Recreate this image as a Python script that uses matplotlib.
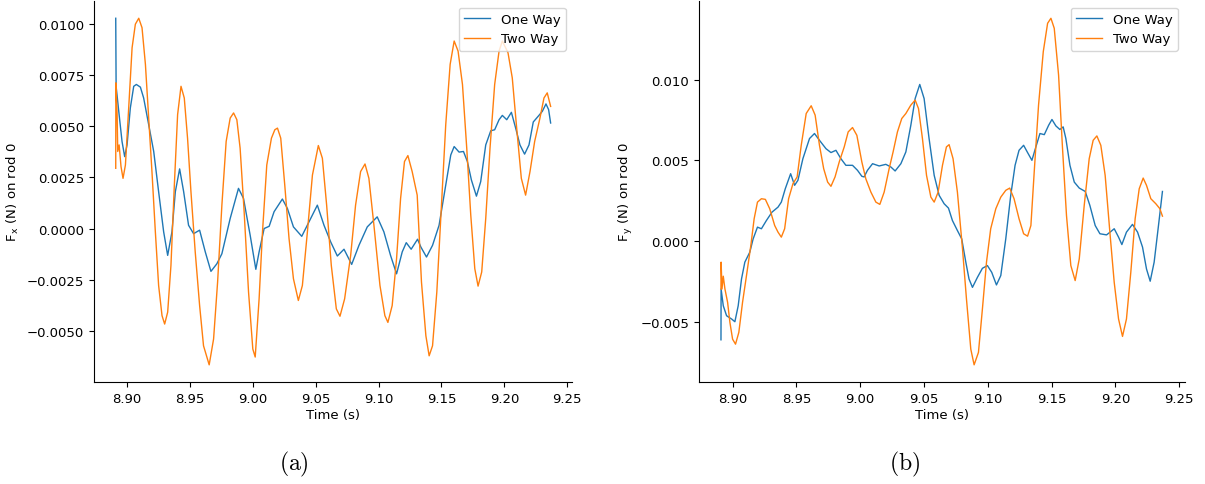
import numpy as np
import matplotlib
matplotlib.use("Agg")
import matplotlib.pyplot as plt

plt.rcParams["mathtext.fontset"] = "cm"

# values, force in 1e-3 N
# (a) Fx on rod 0
t_fx_one = [8.8910, 8.8913, 8.8934, 8.8960, 8.8981, 8.9000, 8.9026, 8.9053, 8.9074, 8.9106,
            8.9132, 8.9172, 8.9212, 8.9251, 8.9291, 8.9323, 8.9357, 8.9384, 8.9418, 8.9450,
            8.9489, 8.9529, 8.9577, 8.9622, 8.9667, 8.9714, 8.9754, 8.9820, 8.9886, 8.9926,
            8.9979, 9.0024, 9.0050, 9.0090, 9.0130, 9.0169, 9.0235, 9.0275, 9.0323, 9.0389,
            9.0447, 9.0513, 9.0566, 9.0619, 9.0672, 9.0725, 9.0786, 9.0844, 9.0910, 9.0989,
            9.1042, 9.1095, 9.1143, 9.1188, 9.1220, 9.1259, 9.1310, 9.1336, 9.1381, 9.1429,
            9.1481, 9.1534, 9.1574, 9.1601, 9.1640, 9.1675, 9.1706, 9.1738, 9.1778, 9.1812,
            9.1852, 9.1892, 9.1923, 9.1958, 9.1984, 9.2019, 9.2056, 9.2090, 9.2124, 9.2161,
            9.2196, 9.2230, 9.2275, 9.2302, 9.2331, 9.2352, 9.2368]
fx_one = [10.26, 6.94, 5.72, 4.25, 3.51, 4.08, 5.88, 6.94, 7.03, 6.90,
          6.37, 5.07, 3.76, 1.80, -0.16, -1.31, -0.16, 1.80, 2.91, 1.80,
          0.16, -0.25, -0.08, -1.14, -2.09, -1.72, -1.23, 0.49, 1.96, 1.47,
          -0.33, -1.99, -1.14, 0.00, 0.11, 0.82, 1.44, 0.98, 0.08, -0.38,
          0.33, 1.14, 0.16, -0.65, -1.34, -1.01, -1.75, -0.82, 0.08, 0.57,
          -0.16, -1.31, -2.21, -1.14, -0.69, -1.01, -0.52, -0.90, -1.39, -0.82,
          0.16, 2.12, 3.59, 4.00, 3.73, 3.76, 3.27, 2.37, 1.58, 2.29,
          4.08, 4.77, 4.82, 5.31, 5.52, 5.31, 5.67, 4.90, 4.08, 3.63,
          4.08, 5.20, 5.52, 5.72, 6.08, 5.80, 5.15]

t_fx_two = [8.8910, 8.8911, 8.8921, 8.8926, 8.8937, 8.8952, 8.8968, 8.8987, 8.9013, 8.9040,
            8.9066, 8.9093, 8.9119, 8.9146, 8.9172, 8.9198, 8.9225, 8.9251, 8.9278, 8.9299,
            8.9323, 8.9349, 8.9376, 8.9402, 8.9429, 8.9455, 8.9481, 8.9508, 8.9542, 8.9577,
            8.9608, 8.9653, 8.9688, 8.9720, 8.9754, 8.9788, 8.9820, 8.9847, 8.9873, 8.9899,
            8.9931, 8.9966, 9.0000, 9.0019, 9.0050, 9.0077, 9.0111, 9.0148, 9.0175, 9.0196,
            9.0222, 9.0254, 9.0288, 9.0323, 9.0362, 9.0394, 9.0434, 9.0474, 9.0521, 9.0553,
            9.0587, 9.0624, 9.0664, 9.0693, 9.0730, 9.0778, 9.0817, 9.0857, 9.0892, 9.0923,
            9.0963, 9.1011, 9.1050, 9.1074, 9.1108, 9.1143, 9.1175, 9.1206, 9.1233, 9.1267,
            9.1307, 9.1341, 9.1376, 9.1402, 9.1429, 9.1463, 9.1500, 9.1534, 9.1569, 9.1601,
            9.1632, 9.1667, 9.1701, 9.1733, 9.1765, 9.1791, 9.1820, 9.1852, 9.1886, 9.1923,
            9.1958, 9.1984, 9.2029, 9.2063, 9.2098, 9.2135, 9.2169, 9.2204, 9.2241, 9.2283,
            9.2315, 9.2341, 9.2368]
fx_two = [2.94, 7.11, 5.56, 3.76, 4.08, 3.02, 2.45, 3.10, 5.88, 8.82,
          9.97, 10.26, 9.80, 8.01, 5.39, 2.78, -0.16, -2.78, -4.25, -4.66,
          -4.08, -1.80, 2.12, 5.56, 6.94, 6.37, 4.41, 1.80, -1.14, -3.76,
          -5.72, -6.65, -5.39, -2.61, 1.14, 4.25, 5.39, 5.64, 5.31, 3.92,
          0.82, -3.10, -5.88, -6.27, -3.43, -0.16, 3.10, 4.41, 4.82, 4.90,
          4.41, 2.12, -0.49, -2.45, -3.51, -2.78, -0.16, 2.61, 4.05, 3.43,
          1.14, -1.80, -3.92, -4.28, -3.43, -1.31, 1.14, 2.78, 3.15, 2.45,
          0.16, -2.78, -4.25, -4.58, -3.76, -1.47, 1.47, 3.27, 3.56, 2.78,
          1.63, -2.61, -5.23, -6.21, -5.72, -3.10, 1.14, 5.07, 8.01, 9.15,
          8.66, 7.03, 3.92, 0.65, -1.96, -2.81, -2.12, 0.49, 3.92, 7.03,
          8.66, 9.15, 8.58, 7.35, 4.90, 2.45, 1.63, 2.78, 4.25, 5.39,
          6.37, 6.62, 5.96]

# (b) Fy on rod 0
t_fy_one = [8.8909, 8.8910, 8.8927, 8.8953, 8.8992, 8.9018, 8.9044, 8.9070, 8.9096, 8.9135,
            8.9161, 8.9195, 8.9226, 8.9265, 8.9309, 8.9356, 8.9382, 8.9413, 8.9455, 8.9486,
            8.9512, 8.9551, 8.9603, 8.9642, 8.9681, 8.9732, 8.9771, 8.9810, 8.9849, 8.9888,
            8.9940, 8.9979, 9.0013, 9.0031, 9.0057, 9.0097, 9.0149, 9.0201, 9.0240, 9.0274,
            9.0319, 9.0358, 9.0397, 9.0431, 9.0467, 9.0501, 9.0540, 9.0580, 9.0619, 9.0658,
            9.0692, 9.0723, 9.0762, 9.0796, 9.0828, 9.0853, 9.0880, 9.0919, 9.0958, 9.0997,
            9.1031, 9.1068, 9.1102, 9.1141, 9.1180, 9.1214, 9.1245, 9.1281, 9.1312, 9.1346,
            9.1377, 9.1409, 9.1443, 9.1477, 9.1503, 9.1534, 9.1565, 9.1591, 9.1612, 9.1644,
            9.1678, 9.1717, 9.1764, 9.1800, 9.1842, 9.1879, 9.1931, 9.1965, 9.1991, 9.2025,
            9.2051, 9.2087, 9.2134, 9.2174, 9.2213, 9.2244, 9.2273, 9.2304, 9.2338, 9.2369]
fy_one = [-6.11, -2.96, -4.00, -4.62, -4.82, -4.99, -4.00, -2.34, -1.30, -0.68,
          0.14, 0.87, 0.77, 1.28, 1.80, 2.11, 2.42, 3.25, 4.18, 3.46,
          3.77, 5.11, 6.36, 6.67, 6.25, 5.73, 5.49, 5.63, 5.11, 4.70,
          4.70, 4.39, 4.02, 3.98, 4.39, 4.80, 4.66, 4.76, 4.60, 4.35,
          4.80, 5.53, 7.18, 8.84, 9.71, 8.84, 6.36, 4.08, 2.84, 2.32,
          2.05, 1.28, 0.66, 0.14, -1.30, -2.34, -2.86, -2.24, -1.68, -1.51,
          -1.93, -2.71, -2.13, 0.14, 2.84, 4.70, 5.63, 5.94, 5.49, 5.01,
          5.84, 6.67, 6.60, 7.18, 7.54, 7.14, 6.92, 7.08, 6.36, 4.70,
          3.66, 3.29, 3.08, 2.22, 0.97, 0.46, 0.39, 0.60, 0.77, 0.25,
          -0.21, 0.56, 1.04, 0.56, -0.37, -1.72, -2.48, -1.30, 0.97, 3.08]

t_fy_two = [8.8909, 8.8910, 8.8917, 8.8927, 8.8940, 8.8961, 8.8979, 8.9000, 8.9023, 8.9049,
            8.9078, 8.9109, 8.9143, 8.9169, 8.9195, 8.9226, 8.9257, 8.9291, 8.9330, 8.9356,
            8.9382, 8.9408, 8.9439, 8.9473, 8.9506, 8.9538, 8.9577, 8.9616, 8.9647, 8.9681,
            8.9714, 8.9745, 8.9771, 8.9803, 8.9836, 8.9875, 8.9906, 8.9940, 8.9974, 9.0013,
            9.0044, 9.0084, 9.0123, 9.0154, 9.0188, 9.0227, 9.0258, 9.0292, 9.0326, 9.0358,
            9.0397, 9.0431, 9.0457, 9.0488, 9.0520, 9.0554, 9.0580, 9.0611, 9.0645, 9.0676,
            9.0697, 9.0728, 9.0762, 9.0802, 9.0833, 9.0867, 9.0893, 9.0927, 9.0958, 9.0990,
            9.1023, 9.1063, 9.1102, 9.1141, 9.1172, 9.1206, 9.1245, 9.1281, 9.1312, 9.1338,
            9.1364, 9.1398, 9.1435, 9.1469, 9.1495, 9.1521, 9.1555, 9.1586, 9.1617, 9.1651,
            9.1685, 9.1717, 9.1756, 9.1795, 9.1826, 9.1855, 9.1886, 9.1920, 9.1957, 9.1991,
            9.2025, 9.2056, 9.2087, 9.2121, 9.2155, 9.2187, 9.2218, 9.2244, 9.2278, 9.2317,
            9.2349, 9.2369]
fy_two = [-2.96, -1.30, -2.96, -2.17, -2.96, -3.79, -5.03, -6.07, -6.38, -5.65,
          -3.79, -2.13, -0.27, 1.39, 2.42, 2.63, 2.59, 2.01, 0.97, 0.56,
          0.25, 0.77, 2.63, 3.56, 3.98, 5.94, 7.91, 8.39, 7.81, 5.94,
          4.49, 3.66, 3.40, 3.98, 4.91, 5.84, 6.77, 7.04, 6.56, 4.91,
          3.87, 3.04, 2.42, 2.28, 3.04, 4.49, 5.53, 6.77, 7.60, 7.91,
          8.43, 8.74, 8.22, 6.36, 4.08, 2.73, 2.42, 3.04, 4.70, 5.84,
          5.98, 5.11, 3.04, -0.48, -3.58, -6.69, -7.66, -6.89, -4.20, -1.30,
          0.77, 2.01, 2.73, 3.15, 3.29, 2.63, 1.39, 0.46, 0.31, 0.97,
          4.29, 8.43, 11.74, 13.50, 13.81, 13.19, 10.29, 5.73, 1.59, -1.51,
          -2.44, -1.10, 2.22, 5.11, 6.25, 6.52, 5.94, 4.08, 0.56, -2.55,
          -4.82, -5.90, -4.82, -1.93, 1.39, 3.25, 3.91, 3.46, 2.63, 2.32,
          2.01, 1.55]

blue = "#1f77b4"
orange = "#ff7f0e"

fig = plt.figure(figsize=(12.05, 4.85), dpi=100)
ax1 = fig.add_axes([0.078, 0.210, 0.397, 0.786])
ax2 = fig.add_axes([0.580, 0.210, 0.403, 0.786])

panels = [
    (ax1, t_fx_one, fx_one, t_fx_two, fx_two, r"F$_\mathregular{x}$ (N) on rod 0", "(a)", 0.244),
    (ax2, t_fy_one, fy_one, t_fy_two, fy_two, r"F$_\mathregular{y}$ (N) on rod 0", "(b)", 0.751),
]

for ax, t1, y1, t2, y2, ylab, cap, cx in panels:
    ax.plot(t1, np.array(y1) * 1e-3, color=blue, lw=1.0, label="One Way")
    ax.plot(t2, np.array(y2) * 1e-3, color=orange, lw=1.0, label="Two Way")
    ax.spines["top"].set_visible(False)
    ax.spines["right"].set_visible(False)
    ax.tick_params(labelsize=9.5)
    ax.set_xlabel("Time (s)", fontsize=9.5, labelpad=2)
    ax.set_ylabel(ylab, fontsize=9.5)
    ax.legend(loc="upper right", fontsize=9.5)
    ax.set_xticks(np.arange(8.90, 9.26, 0.05))
    # subfigure caption below the panel
    fig.text(cx, 0.042, r"$\mathrm{" + cap + "}$", ha="center", va="center", fontsize=17)

fig.savefig("out.png", dpi=100)
